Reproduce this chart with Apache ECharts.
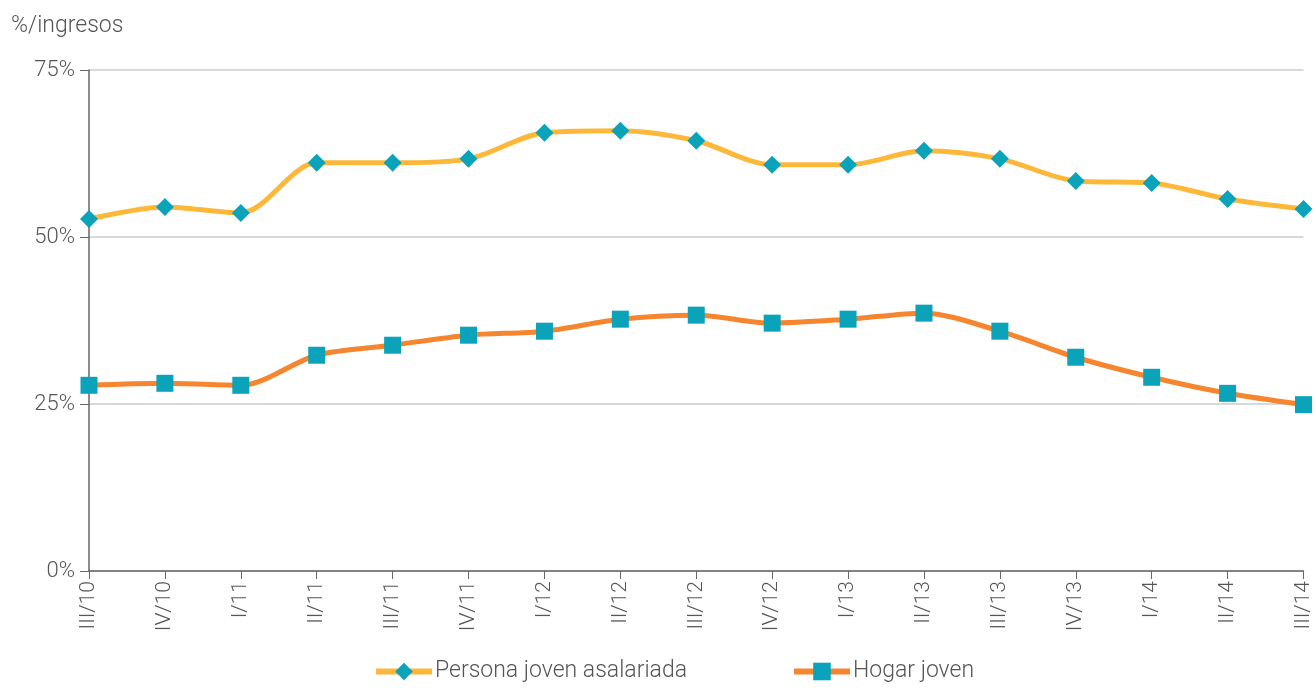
<!DOCTYPE html>
<html><head><meta charset="utf-8">
<script src="https://cdn.jsdelivr.net/npm/echarts@6/dist/echarts.min.js"></script>
<style>html,body{margin:0;padding:0;background:#fff}#c{width:1314px;height:688px}</style>
</head><body><div id="c"></div>
<script>
var categories = ['III/10','IV/10','I/11','II/11','III/11','IV/11','I/12','II/12','III/12','IV/12','I/13','II/13','III/13','IV/13','I/14','II/14','III/14'];
var persona = [52.7,54.5,53.6,61.1,61.1,61.7,65.6,65.9,64.4,60.8,60.8,62.9,61.7,58.4,58.1,55.7,54.2];
var hogar = [27.8,28.1,27.8,32.3,33.8,35.3,35.9,37.7,38.3,37.1,37.7,38.6,35.9,32.0,29.0,26.6,24.9];
var yTicks = [0,25,50,75];
var FONT = 'Roboto';
var chart = echarts.init(document.getElementById('c'));
chart.setOption({
  animation:false,
  textStyle:{fontFamily:FONT},
  grid:{left:89,right:4,top:70,bottom:117,containLabel:false},
  legend:{
    bottom:0,left:368,itemGap:104,itemWidth:56,itemHeight:22,
    lineStyle:{width:6},
    textStyle:{fontFamily:FONT,fontSize:23,color:'#555',fontWeight:300,padding:[0,0,0,-2]},
    data:['Persona joven asalariada','Hogar joven']
  },
  xAxis:{
    type:'category',data:categories,boundaryGap:false,
    axisLine:{lineStyle:{color:'#666',width:1.5}},
    axisTick:{show:true,length:8,alignWithLabel:true,lineStyle:{color:'#666'}},
    axisLabel:{rotate:90,fontSize:21,color:'#555',margin:10,fontWeight:300,interval:0},
    splitLine:{show:false}
  },
  yAxis:{
    type:'value',min:0,max:75,interval:25,
    name:'%/ingresos',nameLocation:'end',nameGap:32,
    nameTextStyle:{fontSize:23,color:'#555',align:'left',padding:[0,0,0,-78],fontWeight:300},
    axisLine:{show:true,lineStyle:{color:'#666',width:1.5}},
    axisTick:{show:true,length:9,lineStyle:{color:'#666'}},
    axisLabel:{fontSize:22,color:'#555',margin:14,fontWeight:300,formatter:function(v){return yTicks.indexOf(v)>=0?v+'%':'';}},
    splitLine:{show:true,lineStyle:{color:'#cccccc',width:1.5}}
  },
  series:[
    {name:'Persona joven asalariada',type:'line',data:persona,smooth:0.3,
     symbol:'diamond',symbolSize:18,
     lineStyle:{color:'#FDB83A',width:5},
     itemStyle:{color:'#0AA3BA',borderWidth:0}},
    {name:'Hogar joven',type:'line',data:hogar,smooth:0.3,
     symbol:'rect',symbolSize:17,
     lineStyle:{color:'#F5852F',width:5},
     itemStyle:{color:'#0AA3BA',borderWidth:0}}
  ]
});
</script></body></html>
